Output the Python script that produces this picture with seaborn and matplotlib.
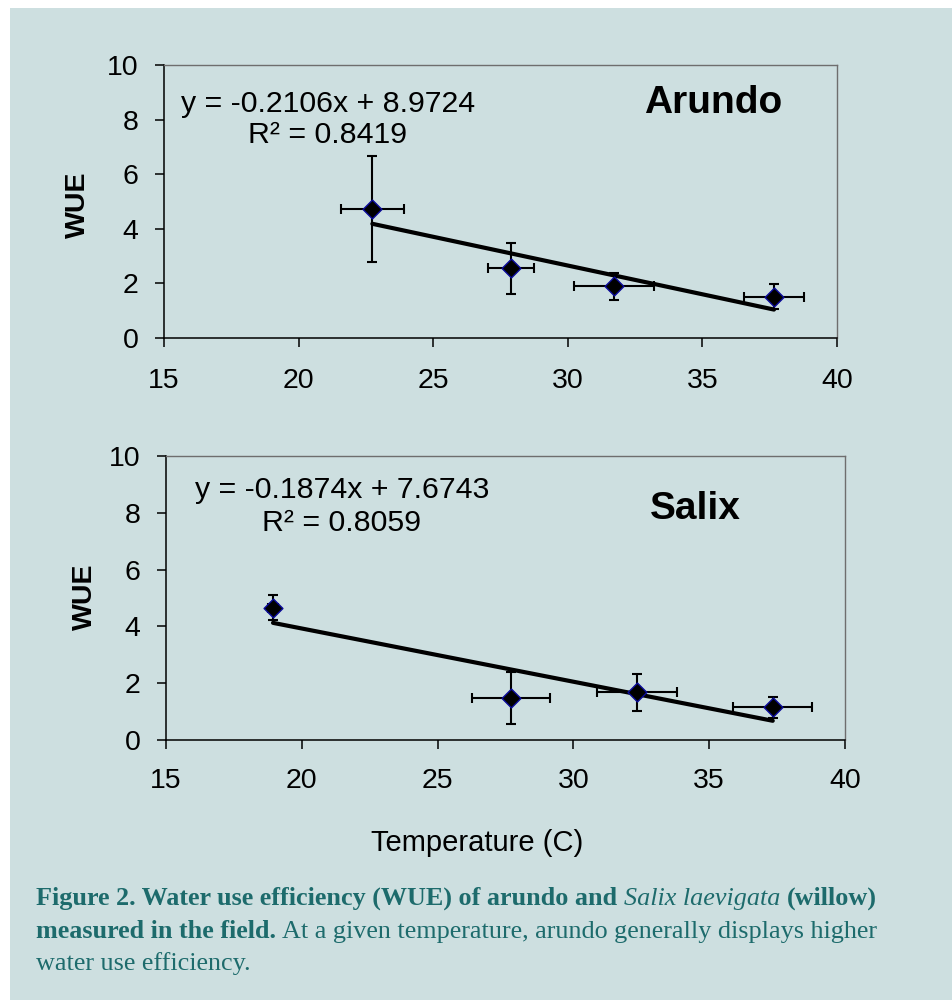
import matplotlib
matplotlib.use("Agg")
import matplotlib.pyplot as plt
import seaborn as sns
import numpy as np
from matplotlib.patches import Rectangle

# ---------------- data ----------------
arundo_temp = [22.74, 27.90, 31.72, 37.66]
arundo_temp_err = [1.16, 0.85, 1.50, 1.12]
arundo_wue = [4.72, 2.55, 1.89, 1.52]
arundo_wue_err = [1.94, 0.92, 0.49, 0.47]
arundo_slope, arundo_intercept = -0.2106, 8.9724
arundo_eq = "y = -0.2106x + 8.9724"
arundo_r2 = "R² = 0.8419"

salix_temp = [18.94, 27.70, 32.35, 37.34]
salix_temp_err = [0.20, 1.43, 1.48, 1.46]
salix_wue = [4.66, 1.47, 1.68, 1.15]
salix_wue_err = [0.43, 0.92, 0.66, 0.36]
salix_slope, salix_intercept = -0.1874, 7.6743
salix_eq = "y = -0.1874x + 7.6743"
salix_r2 = "R² = 0.8059"

x_ticks = [15, 20, 25, 30, 35, 40]
y_ticks = [0, 2, 4, 6, 8, 10]
x_label = "Temperature (C)"
y_label = "WUE"

caption_lines = [
    [("Figure 2. Water use efficiency (WUE) of arundo and", "bold", "normal"),
     ("Salix laevigata", "normal", "italic"),
     ("(willow)", "bold", "normal")],
    [("measured in the field.", "bold", "normal"),
     ("At a given temperature, arundo generally displays higher", "normal", "normal")],
    [("water use efficiency.", "normal", "normal")],
]

# ---------------- style ----------------
BG = "#cddfe0"
CAP = "#1d6b6c"
sns.set_theme(style="ticks")
plt.rcParams["font.family"] = ["Liberation Sans", "DejaVu Sans"]
plt.rcParams["text.color"] = "black"
plt.rcParams["axes.labelcolor"] = "black"
plt.rcParams["xtick.color"] = "black"
plt.rcParams["ytick.color"] = "black"

W, H = 953, 1000
fig = plt.figure(figsize=(W / 100, H / 100), dpi=100)
fig.patch.set_facecolor("white")
fig.patches.append(Rectangle((10 / W, 0), 1 - 10 / W, 1 - 8 / H,
                             transform=fig.transFigure, facecolor=BG,
                             edgecolor="none", zorder=-10))

def px_axes(l, t, r, b):
    return fig.add_axes([l / W, 1 - b / H, (r - l) / W, (b - t) / H])

ax1 = px_axes(164, 65, 837, 338)
ax2 = px_axes(166, 456, 845, 740)


def draw_panel(ax, xs, xerr, ys, yerr, slope, intercept, eq, r2, name,
               eq_pos, r2_pos, name_pos, xpad):
    ax.set_facecolor(BG)
    ax.errorbar(xs, ys, xerr=xerr, yerr=yerr, fmt="none", ecolor="black",
                elinewidth=1.5, capsize=3.8, capthick=1.5, zorder=2)
    lx = np.array([min(xs), max(xs)])
    sns.lineplot(x=lx, y=slope * lx + intercept, ax=ax, color="black",
                 linewidth=3.0, zorder=3)
    sns.scatterplot(x=xs, y=ys, ax=ax, marker="D", s=92, color="black",
                    edgecolor="#0a0a9a", linewidth=1.0, zorder=4)
    ax.set_xlim(15, 40)
    ax.set_ylim(0, 10)
    ax.set_xticks(x_ticks)
    ax.set_yticks(y_ticks)
    ax.tick_params(axis="both", direction="out", length=6.5, width=1.1,
                   color="black", labelsize=20.5, labelcolor="black")
    ax.tick_params(axis="y", pad=12)
    ax.tick_params(axis="x", pad=xpad)
    for s in ["left", "bottom"]:
        ax.spines[s].set_color("black")
        ax.spines[s].set_linewidth(1.1)
    for s in ["top", "right"]:
        ax.spines[s].set_visible(True)
        ax.spines[s].set_color("#6e6e6e")
        ax.spines[s].set_linewidth(1.0)
    ax.set_xlabel("")
    ax.set_ylabel("")
    ax.text(*eq_pos, eq, fontsize=21.8, ha="center", va="center", color="black")
    ax.text(*r2_pos, r2, fontsize=21.8, ha="center", va="center", color="black")
    ax.text(*name_pos, name, fontsize=28, fontweight="bold", ha="center",
            va="center", color="black")


draw_panel(ax1, arundo_temp, arundo_temp_err, arundo_wue, arundo_wue_err,
           arundo_slope, arundo_intercept, arundo_eq, arundo_r2, "Arundo",
           (21.09, 8.58), (21.09, 7.42), (35.39, 8.62), 15)
draw_panel(ax2, salix_temp, salix_temp_err, salix_wue, salix_wue_err,
           salix_slope, salix_intercept, salix_eq, salix_r2, "Salix",
           (21.48, 8.80), (21.48, 7.64), (34.48, 8.12), 14)

fig.text(78 / W, 1 - 205 / H, y_label, rotation=90, fontsize=20.5,
         fontweight="bold", ha="center", va="center", color="black")
fig.text(85 / W, 1 - 597 / H, y_label, rotation=90, fontsize=20.5,
         fontweight="bold", ha="center", va="center", color="black")
fig.text(477 / W, 1 - 843 / H, x_label, fontsize=21, ha="center", va="center",
         color="black")

# ---------------- caption ----------------
renderer = fig.canvas.get_renderer()
SERIF = ["Liberation Serif", "DejaVu Serif"]


def measure(txt, size, weight, style):
    t = fig.text(0, 0, txt, fontsize=size, fontweight=weight, fontstyle=style,
                 family=SERIF)
    w = t.get_window_extent(renderer).width
    t.remove()
    return w


def line_width(pieces, size):
    total = 0
    for i, (txt, wgt, sty) in enumerate(pieces):
        total += measure(txt, size, wgt, sty)
        if i < len(pieces) - 1:
            total += measure("a a", size, wgt, sty) - measure("aa", size, wgt, sty)
    return total


base = 20
size = base * 842 / line_width(caption_lines[0], base)

baselines = [905, 938, 970]
for pieces, yb in zip(caption_lines, baselines):
    x = 36
    for i, (txt, wgt, sty) in enumerate(pieces):
        t = fig.text(x / W, 1 - yb / H, txt, fontsize=size, fontweight=wgt,
                     fontstyle=sty, family=SERIF, color=CAP, ha="left",
                     va="baseline")
        x += t.get_window_extent(renderer).width
        if i < len(pieces) - 1:
            x += measure("a a", size, wgt, sty) - measure("aa", size, wgt, sty)

fig.savefig("out.png", dpi=100, facecolor=fig.get_facecolor())
